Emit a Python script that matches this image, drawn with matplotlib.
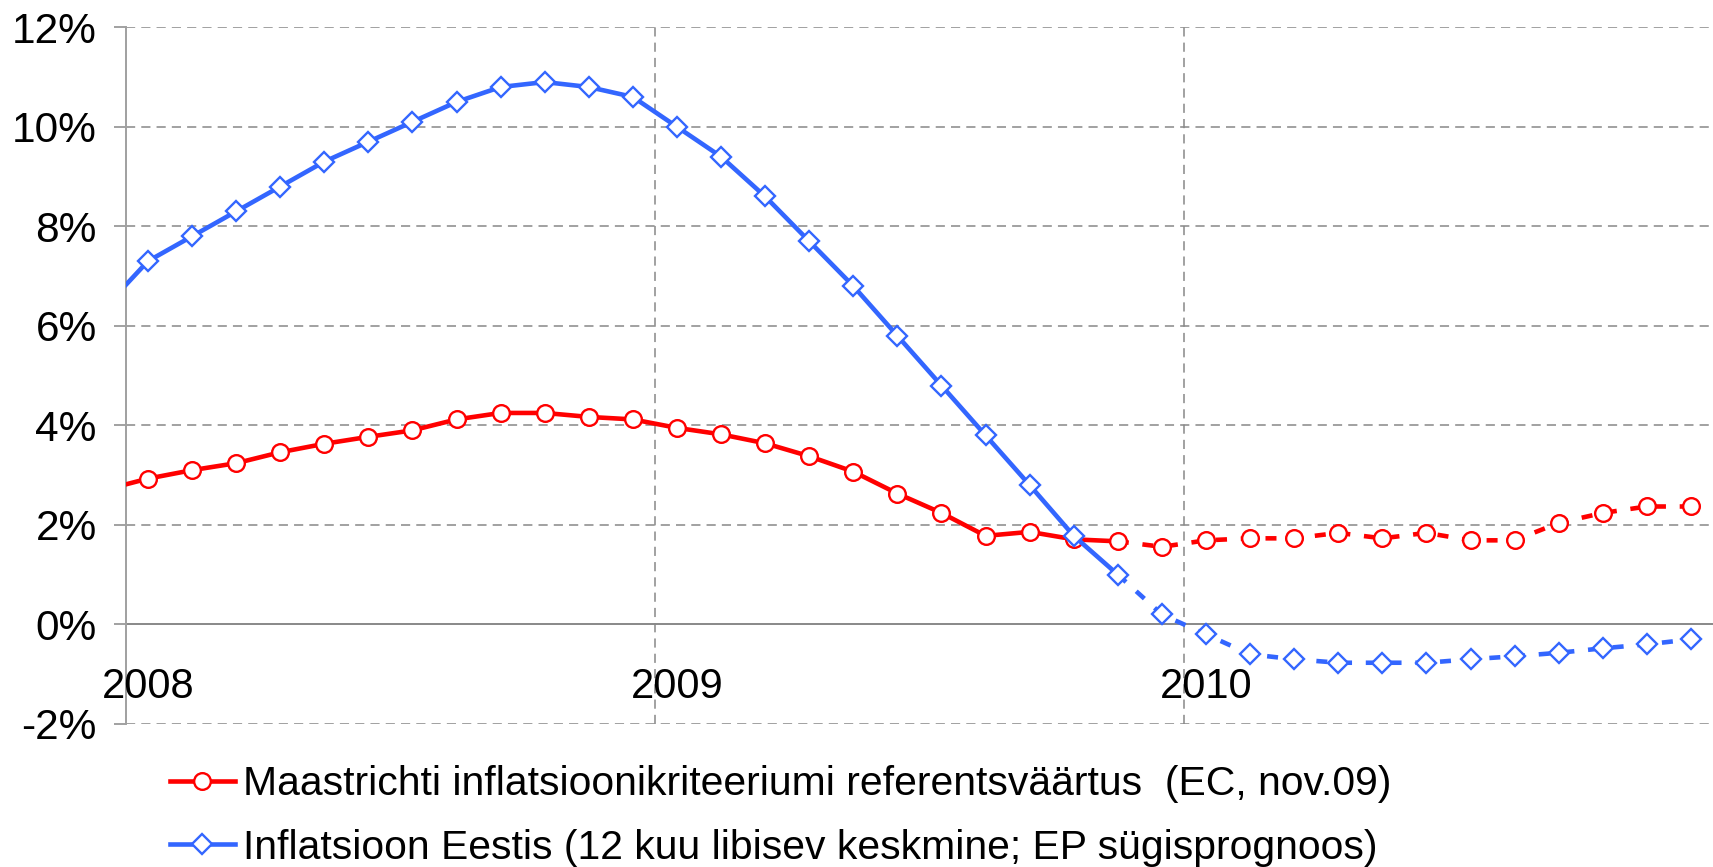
import numpy as np
import matplotlib.pyplot as plt
from matplotlib.lines import Line2D

plt.rcParams['font.family'] = ['Liberation Sans', 'DejaVu Sans']

# monthly values, Dec 2007 .. Dec 2010 (first point sits just left of the plot)
months = np.arange(-1, 36) + 0.5
maastricht = [2.70,
              2.93, 3.10, 3.24, 3.46, 3.63, 3.77, 3.90, 4.12, 4.25, 4.25, 4.17, 4.12,
              3.95, 3.82, 3.64, 3.38, 3.07, 2.63, 2.24, 1.78, 1.86, 1.71, 1.67, 1.56,
              1.69, 1.73, 1.73, 1.84, 1.73, 1.84, 1.69, 1.69, 2.04, 2.24, 2.37, 2.37]
estonia = [6.35,
           7.30, 7.80, 8.30, 8.80, 9.30, 9.70, 10.10, 10.50, 10.80, 10.90, 10.80, 10.60,
           10.00, 9.40, 8.60, 7.70, 6.80, 5.80, 4.80, 3.80, 2.80, 1.78, 1.00, 0.20,
           -0.20, -0.60, -0.70, -0.77, -0.77, -0.77, -0.70, -0.64, -0.57, -0.48, -0.40, -0.30]
split = 23  # last actual point (Nov 2009), forecast after it

years = ['2008', '2009', '2010']
yticks = [-2, 0, 2, 4, 6, 8, 10, 12]
labels = ['Maastrichti inflatsioonikriteeriumi referentsväärtus  (EC, nov.09)',
          'Inflatsioon Eestis (12 kuu libisev keskmine; EP sügisprognoos)']

red = '#FF0000'
blue = '#3366FF'
grid_c = '#888888'

fig = plt.figure(figsize=(17.13, 8.67), dpi=100)
ax = fig.add_axes([0.0735, 0.165, 0.9265, 0.8035])

series = [(maastricht, red, 'o', 12), (estonia, blue, 'D', 10.5)]
z = 3
for vals, col, mk, ms in series:
    vals = np.array(vals)
    ax.plot(months[:split + 1], vals[:split + 1], color=col, lw=3.3,
            solid_capstyle='butt', zorder=z)
    ax.plot(months[split:], vals[split:], color=col, lw=3.3,
            linestyle=(0, (2.4, 3.0)), zorder=z)
    ax.plot(months, vals, linestyle='none', marker=mk, ms=ms, mfc='white',
            mec=col, mew=1.7, zorder=z + 1)
    z += 2

ax.set_xlim(0, 36)
ax.set_ylim(-2, 12)
ax.set_yticks(yticks)
ax.set_yticklabels([f'{v}%' for v in yticks])
ax.set_xticks([])

for v in yticks:
    if v != 0:
        ax.axhline(v, color=grid_c, lw=1.1, linestyle=(0, (6, 4)), zorder=1)
ax.axhline(0, color=grid_c, lw=1.4, zorder=1)
for m in [12, 24]:
    ax.axvline(m, color=grid_c, lw=1.1, linestyle=(0, (6, 4)), zorder=1)

for i, yr in enumerate(years):
    ax.text(12 * i + 0.5, -1.25, yr, ha='center', va='center', fontsize=30)

for s in ['top', 'right', 'bottom']:
    ax.spines[s].set_visible(False)
ax.spines['left'].set_color('#A0A0A0')
ax.spines['left'].set_linewidth(1.4)
ax.tick_params(axis='y', length=9, width=1.1, color=grid_c, labelsize=30.5, pad=12)

handles = [Line2D([], [], color=red, lw=3.3, marker='o', ms=12, mfc='white', mec=red, mew=1.7),
           Line2D([], [], color=blue, lw=3.3, marker='D', ms=10.5, mfc='white', mec=blue, mew=1.7)]
fig.legend(handles, labels, loc='upper left', bbox_to_anchor=(0.0895, 0.136),
           frameon=False, fontsize=29.4, handlelength=1.6, handletextpad=0.2,
           labelspacing=0.62, borderaxespad=0)

fig.savefig('out.png', dpi=100)
